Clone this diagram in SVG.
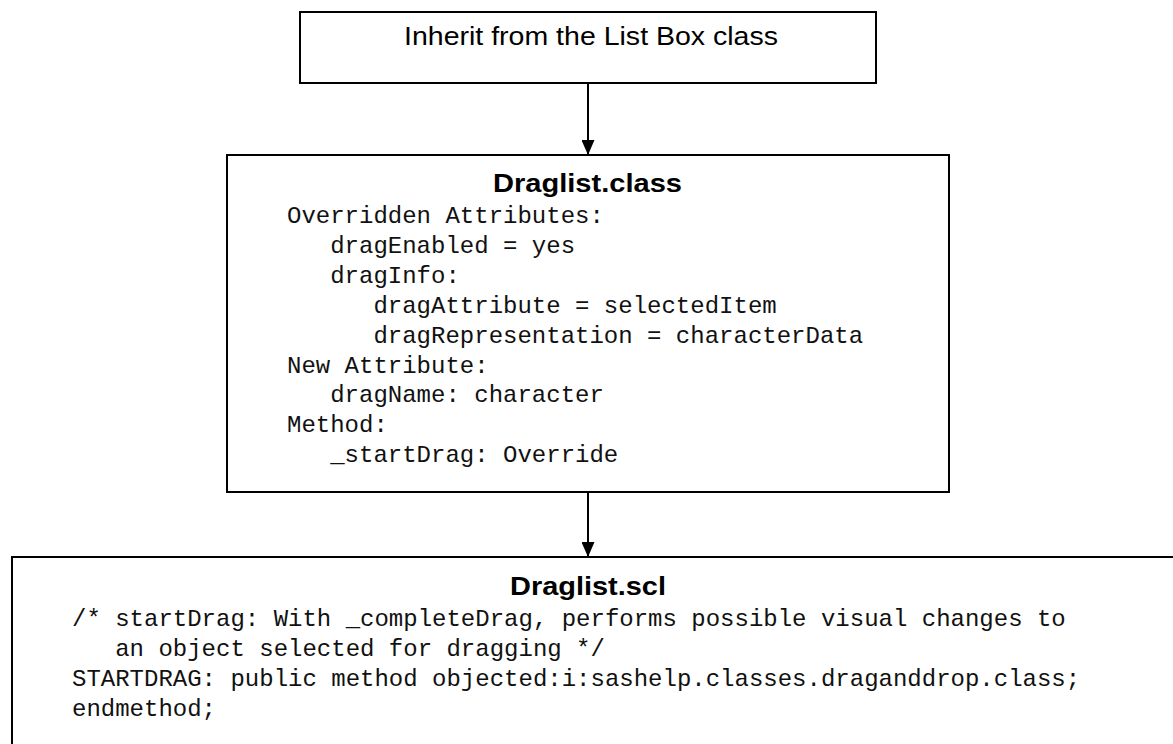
<svg xmlns="http://www.w3.org/2000/svg" width="1173" height="744" viewBox="0 0 1173 744">
<style>
.box{fill:#fff;stroke:#000;stroke-width:2}
.t{font-family:"Liberation Sans",Arial,sans-serif;font-size:26px;fill:#000}
.b{font-family:"Liberation Sans",Arial,sans-serif;font-size:26px;font-weight:bold;fill:#000}
.m{font-family:"Liberation Mono","Courier New",monospace;font-size:24px;fill:#111;white-space:pre}
.c{stroke:#000;stroke-width:2;fill:none;marker-end:url(#ah)}
</style>
<defs>
<marker id="ah" markerWidth="15" markerHeight="13" refX="15" refY="6.5" orient="auto" markerUnits="userSpaceOnUse" viewBox="0 0 15 13">
<path d="M0,0 L15,6.5 L0,13 Z" fill="#000"/>
</marker>
</defs>
<rect width="1173" height="744" fill="#fff"/>
<g id="node-inherit">
<rect class="box" x="300" y="12" width="576" height="71"/>
<text class="t" x="404" y="45" textLength="374" lengthAdjust="spacingAndGlyphs">Inherit from the List Box class</text>
</g>
<g id="node-draglist-class">
<rect class="box" x="227" y="155" width="722" height="337"/>
<text class="b" x="493" y="192" textLength="189" lengthAdjust="spacingAndGlyphs">Draglist.class</text>
<text class="m" xml:space="preserve"><tspan x="287" y="223">Overridden Attributes:</tspan><tspan x="287" y="253">   dragEnabled = yes</tspan><tspan x="287" y="283">   dragInfo:</tspan><tspan x="287" y="313">      dragAttribute = selectedItem</tspan><tspan x="287" y="343">      dragRepresentation = characterData</tspan><tspan x="287" y="373">New Attribute:</tspan><tspan x="287" y="402">   dragName: character</tspan><tspan x="287" y="432">Method:</tspan><tspan x="287" y="462">   _startDrag: Override</tspan></text>
</g>
<g id="node-draglist-scl">
<rect class="box" x="12" y="557" width="1200" height="250"/>
<text class="b" x="510" y="595" textLength="156" lengthAdjust="spacingAndGlyphs">Draglist.scl</text>
<text class="m" xml:space="preserve"><tspan x="72" y="626">/* startDrag: With _completeDrag, performs possible visual changes to</tspan><tspan x="72" y="656">   an object selected for dragging */</tspan><tspan x="72" y="686">STARTDRAG: public method objected:i:sashelp.classes.draganddrop.class;</tspan><tspan x="72" y="716">endmethod;</tspan></text>
</g>
<g id="connectors">
<line class="c" x1="588" y1="83" x2="588" y2="155"/>
<line class="c" x1="588" y1="492" x2="588" y2="557"/>
</g>
</svg>
